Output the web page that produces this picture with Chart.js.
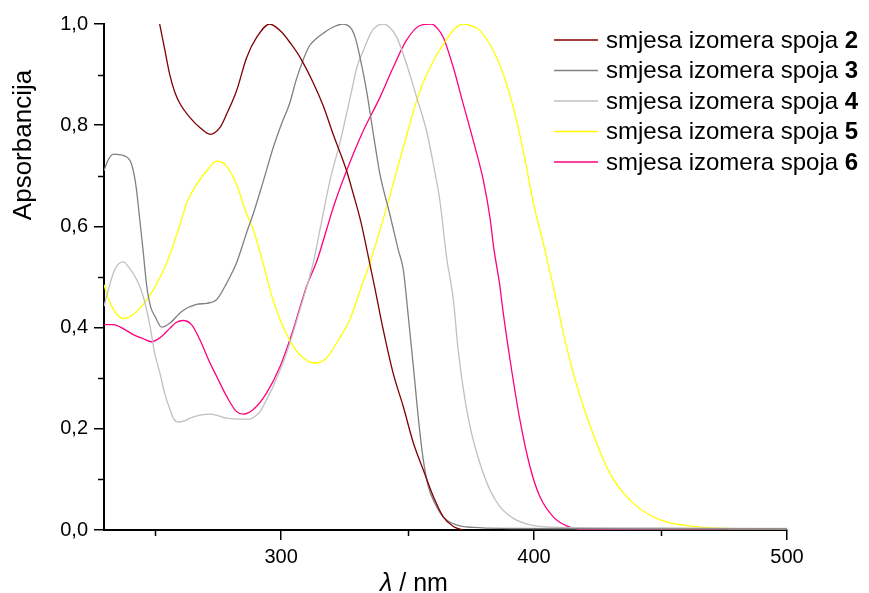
<!DOCTYPE html>
<html>
<head>
<meta charset="utf-8">
<script src="https://cdn.jsdelivr.net/npm/chart.js@4"></script>
<style>
  html, body { margin: 0; padding: 0; background: #fff; }
  #wrap { width: 869px; height: 593px; }
</style>
</head>
<body>
<div id="wrap"><canvas id="spectra"></canvas></div>
<script>
// wavelengths (nm) and absorbance, one pair per compound
var wl2 = [252, 254, 256, 258, 260, 264, 268, 272, 275.8, 278.5, 282.4, 286.4, 290.4, 295.5, 300, 304, 307.5, 312.7, 316.7, 320.6, 325.9, 328.5, 331.5, 334.5, 337, 340, 344.3, 348.3, 352.3, 356.2, 360.2, 364.1, 368.1, 372];
var abs2 = [1.0, 0.95, 0.9, 0.865, 0.843, 0.815, 0.795, 0.782, 0.795, 0.822, 0.868, 0.934, 0.974, 1.0, 0.985, 0.96, 0.934, 0.884, 0.838, 0.782, 0.71, 0.665, 0.61, 0.54, 0.48, 0.405, 0.31, 0.244, 0.172, 0.119, 0.066, 0.026, 0.007, 0.0];

var wl3 = [230, 231.5, 233.7, 236, 240.3, 242, 242.9, 244, 245.5, 246.9, 248.5, 250.2, 252.8, 256.1, 260.7, 266.6, 270.6, 274.5, 278.5, 282.4, 286.4, 289, 293, 296.9, 300, 303.5, 306, 308.8, 311, 314.1, 317, 320.6, 324.3, 327.9, 329.5, 331.2, 333.8, 336.5, 339.1, 343, 346.3, 348.3, 350.3, 352.3, 354.2, 356.2, 358.2, 360.8, 364.1, 369.4, 376, 390, 450, 500];
var abs3 = [0.71, 0.73, 0.743, 0.742, 0.73, 0.7, 0.67, 0.62, 0.55, 0.482, 0.44, 0.422, 0.401, 0.409, 0.432, 0.446, 0.448, 0.455, 0.488, 0.528, 0.588, 0.625, 0.69, 0.756, 0.8, 0.845, 0.89, 0.93, 0.955, 0.972, 0.983, 0.994, 1.0, 0.99, 0.97, 0.934, 0.868, 0.782, 0.703, 0.624, 0.554, 0.515, 0.422, 0.323, 0.224, 0.139, 0.086, 0.053, 0.026, 0.01, 0.005, 0.003, 0.002, 0.002];

var wl4 = [230, 232, 233.7, 235.5, 237.6, 240, 242.9, 245.5, 248.2, 250, 252.1, 254, 256.1, 257.5, 259.4, 262, 264, 268, 271.9, 275, 278.5, 283, 287.7, 289.5, 291.7, 294, 296.9, 302.2, 307.5, 312.7, 315.4, 319.3, 323.3, 327.9, 330, 332.5, 334.5, 336.5, 340.4, 343, 345.7, 349.6, 353.6, 357.5, 360.2, 362.8, 365.4, 368.1, 370, 372.7, 375.3, 378.6, 382.6, 386.5, 391.8, 398.4, 402.3, 410, 450, 500];
var abs4 = [0.442, 0.48, 0.508, 0.525, 0.53, 0.518, 0.495, 0.462, 0.403, 0.35, 0.31, 0.27, 0.238, 0.22, 0.213, 0.216, 0.221, 0.227, 0.229, 0.226, 0.221, 0.219, 0.219, 0.224, 0.234, 0.255, 0.284, 0.35, 0.436, 0.528, 0.594, 0.69, 0.766, 0.868, 0.915, 0.947, 0.972, 0.99, 1.0, 0.993, 0.974, 0.921, 0.855, 0.789, 0.723, 0.65, 0.54, 0.455, 0.356, 0.257, 0.191, 0.132, 0.079, 0.046, 0.023, 0.01, 0.007, 0.005, 0.004, 0.003];

var wl5 = [230, 231.5, 233.7, 235.5, 237.6, 239.5, 241.6, 245.5, 249.5, 254.8, 259.4, 263, 266.6, 270.6, 274.5, 276.5, 278.5, 282.4, 286.4, 289, 293, 296.5, 299.6, 304.8, 310.1, 313.4, 318, 322, 327.2, 331, 335.1, 341.7, 348.3, 354.9, 360.2, 365.5, 368.5, 372, 375.5, 378.6, 383.9, 389.2, 393.1, 396.4, 399.7, 403.6, 407.6, 411.6, 415.5, 419.5, 424.7, 430, 436.6, 444.5, 452.4, 463, 476.1, 500];
var abs5 = [0.485, 0.46, 0.436, 0.424, 0.418, 0.42, 0.426, 0.446, 0.475, 0.528, 0.594, 0.65, 0.683, 0.71, 0.729, 0.727, 0.719, 0.683, 0.624, 0.594, 0.525, 0.46, 0.416, 0.363, 0.335, 0.33, 0.34, 0.37, 0.416, 0.47, 0.528, 0.637, 0.756, 0.868, 0.927, 0.97, 0.99, 1.0, 0.996, 0.987, 0.947, 0.881, 0.809, 0.733, 0.647, 0.568, 0.482, 0.389, 0.31, 0.244, 0.172, 0.112, 0.066, 0.033, 0.016, 0.007, 0.003, 0.002];

var wl6 = [230, 233.7, 237.6, 241.6, 245.5, 248.8, 252.1, 256.1, 258.5, 261.3, 264.6, 267.9, 271.9, 274.5, 278.5, 282.4, 285.1, 289, 294.3, 299.6, 304.8, 310.1, 314.1, 318, 320.6, 325.9, 332.5, 339.1, 344.3, 349.6, 354.9, 359.5, 362, 364.1, 368.1, 372, 376, 380, 382.6, 384, 386.5, 387.8, 390.5, 394.4, 398.4, 402.3, 407.6, 412.9, 419.5, 450, 500];
var abs6 = [0.406, 0.406, 0.398, 0.386, 0.378, 0.372, 0.38, 0.399, 0.41, 0.414, 0.406, 0.376, 0.33, 0.304, 0.264, 0.234, 0.229, 0.238, 0.271, 0.323, 0.396, 0.482, 0.531, 0.594, 0.637, 0.71, 0.789, 0.855, 0.914, 0.968, 0.997, 1.0, 0.99, 0.974, 0.914, 0.842, 0.769, 0.69, 0.617, 0.56, 0.482, 0.43, 0.337, 0.218, 0.125, 0.066, 0.026, 0.008, 0.001, 0.001, 0.001];

var seriesNames = ['2', '3', '4', '5', '6'];
var seriesColors = ['#800000', '#808080', '#c0c0c0', '#ffff00', '#ff0080'];

var xTicks = [250, 300, 350, 400, 450, 500];
var xLabelled = [300, 400, 500];
var yTicks = [0, 0.1, 0.2, 0.3, 0.4, 0.5, 0.6, 0.7, 0.8, 0.9, 1.0];
var yLabelled = [0, 0.2, 0.4, 0.6, 0.8, 1.0];

function pts(xs, ys) {
  return xs.map(function (x, i) { return { x: x, y: ys[i] }; });
}
function isIn(list, v) {
  return list.some(function (t) { return Math.abs(t - v) < 1e-6; });
}

var allX = [wl2, wl3, wl4, wl5, wl6];
var allY = [abs2, abs3, abs4, abs5, abs6];
var datasets = seriesNames.map(function (n, i) {
  return {
    label: 'smjesa izomera spoja ' + n,
    data: pts(allX[i], allY[i]),
    borderColor: seriesColors[i],
    borderWidth: 1.3,
    pointRadius: 0,
    fill: false,
    cubicInterpolationMode: 'monotone'
  };
});

var FONT = "'Liberation Sans', Arial, sans-serif";

// minor ticks, axis titles and the legend with its bold numbers
var decorations = {
  id: 'decorations',
  afterDraw: function (chart) {
    var c = chart.ctx;
    var xs = chart.scales.x, ys = chart.scales.y;
    var area = chart.chartArea;
    c.save();
    c.strokeStyle = '#000';
    c.lineWidth = 1.5;
    xTicks.forEach(function (v) {
      if (isIn(xLabelled, v)) return;
      var px = Math.round(xs.getPixelForValue(v)) + 0.5;
      c.beginPath(); c.moveTo(px, area.bottom); c.lineTo(px, area.bottom + 6); c.stroke();
    });
    yTicks.forEach(function (v) {
      if (isIn(yLabelled, v)) return;
      var py = Math.round(ys.getPixelForValue(v)) + 0.5;
      c.beginPath(); c.moveTo(area.left, py); c.lineTo(area.left - 6, py); c.stroke();
    });

    // y title
    c.fillStyle = '#000';
    c.save();
    c.translate(24, 145);
    c.rotate(-Math.PI / 2);
    c.font = '26px ' + FONT;
    c.textAlign = 'center';
    c.textBaseline = 'middle';
    c.fillText('Apsorbancija', 0, 0);
    c.restore();

    // x title
    c.textBaseline = 'alphabetic';
    c.textAlign = 'left';
    c.font = 'italic 25px ' + FONT;
    c.fillText('\u03bb', 380, 591);
    var w = c.measureText('\u03bb').width;
    c.font = '25px ' + FONT;
    c.fillText(' / nm', 380 + w, 591);

    // legend
    var rowY = [40, 70.5, 101, 131.5, 162];
    seriesNames.forEach(function (n, i) {
      c.strokeStyle = seriesColors[i];
      c.lineWidth = 1.5;
      c.beginPath(); c.moveTo(554, rowY[i]); c.lineTo(598, rowY[i]); c.stroke();
      c.textBaseline = 'middle';
      c.font = '24px ' + FONT;
      c.fillText('smjesa izomera spoja ', 606, rowY[i] + 1);
      var tw = c.measureText('smjesa izomera spoja ').width;
      c.font = 'bold 24px ' + FONT;
      c.fillText(n, 606 + tw, rowY[i] + 1);
    });
    c.restore();
  }
};

new Chart(document.getElementById('spectra'), {
  type: 'line',
  data: { datasets: datasets },
  plugins: [decorations],
  options: {
    responsive: true,
    maintainAspectRatio: false,
    animation: false,
    layout: { padding: { left: 0, right: 82, top: 24, bottom: 0 } },
    plugins: {
      legend: { display: false },
      tooltip: { enabled: false }
    },
    scales: {
      x: {
        type: 'linear',
        min: 230,
        max: 500,
        afterBuildTicks: function (scale) {
          scale.ticks = xTicks.map(function (v) { return { value: v }; });
        },
        afterFit: function (scale) { scale.height = 63; },
        border: { color: '#000', width: 2 },
        grid: {
          drawOnChartArea: false,
          tickLength: 10,
          lineWidth: 1.5,
          color: function (ctx) {
            return ctx.tick && isIn(xLabelled, ctx.tick.value) ? '#000' : 'rgba(0,0,0,0)';
          }
        },
        ticks: {
          color: '#000',
          padding: 5,
          maxRotation: 0,
          autoSkip: false,
          font: { family: FONT, size: 20 },
          callback: function (v) { return isIn(xLabelled, v) ? String(v) : ''; }
        }
      },
      y: {
        min: 0,
        max: 1,
        afterBuildTicks: function (scale) {
          scale.ticks = yTicks.map(function (v) { return { value: v }; });
        },
        afterFit: function (scale) { scale.width = 104; },
        border: { color: '#000', width: 2 },
        grid: {
          drawOnChartArea: false,
          tickLength: 10,
          lineWidth: 1.5,
          color: function (ctx) {
            return ctx.tick && isIn(yLabelled, ctx.tick.value) ? '#000' : 'rgba(0,0,0,0)';
          }
        },
        ticks: {
          color: '#000',
          padding: 6,
          autoSkip: false,
          font: { family: FONT, size: 20 },
          callback: function (v) { return isIn(yLabelled, v) ? v.toFixed(1).replace('.', ',') : ''; }
        }
      }
    }
  }
});
</script>
</body>
</html>
